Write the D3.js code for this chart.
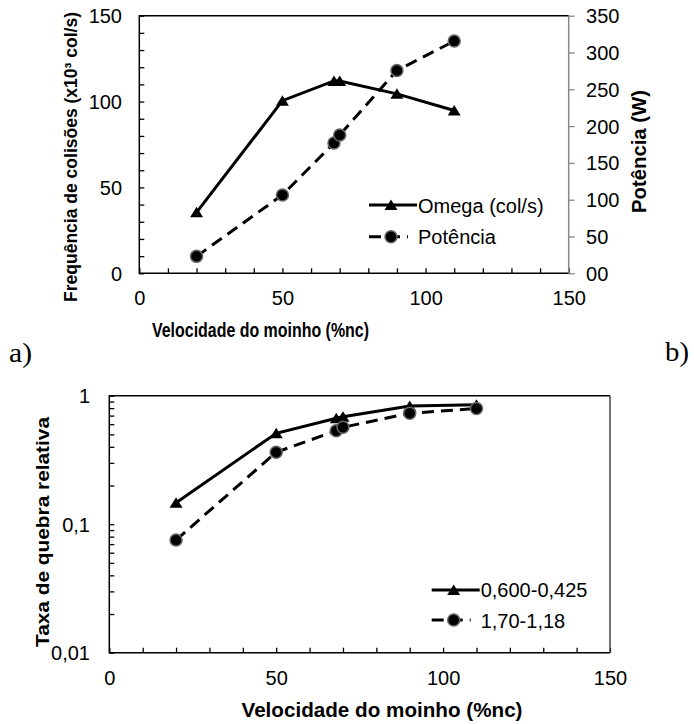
<!DOCTYPE html>
<html>
<head>
<meta charset="utf-8">
<script src="https://cdn.jsdelivr.net/npm/d3@7"></script>
<style>
  html, body { margin: 0; padding: 0; background: #fff; }
  svg { display: block; }
  text { fill: #000; }
</style>
</head>
<body>
<svg id="chart" width="694" height="724"></svg>
<script>
// ---------- data ----------
const speed = [20, 50, 68, 70, 90, 110];
const omega = [35.5, 100.5, 112, 112, 104.5, 94.8];
const potencia = [23, 106.5, 177, 188, 275.5, 315.5];
const taxaFine = [0.147, 0.51, 0.667, 0.687, 0.83, 0.85];
const taxaCoarse = [0.0753, 0.363, 0.534, 0.568, 0.73, 0.795];

const xTickValues = [0, 10, 20, 30, 40, 50, 60, 70, 80, 90, 100, 110, 120, 130, 140, 150];
const xTickLabels = ["0", "50", "100", "150"];
const leftTickValues = [0, 10, 20, 30, 40, 50, 60, 70, 80, 90, 100, 110, 120, 130, 140, 150];
const rightTickValues = [0, 50, 100, 150, 200, 250, 300, 350];
const rightTickLabels = ["00", "50", "100", "150", "200", "250", "300", "350"];
const logTickValues = [0.01, 0.02, 0.03, 0.04, 0.05, 0.06, 0.07, 0.08, 0.09,
                       0.1, 0.2, 0.3, 0.4, 0.5, 0.6, 0.7, 0.8, 0.9, 1];
const logTickLabels = { "0.01": "0,01", "0.1": "0,1", "1": "1" };

const legendTop = ["Omega (col/s)", "Potência"];
const legendBottom = ["0,600-0,425", "1,70-1,18"];
const titleX = "Velocidade do moinho (%nc)";
const titleTopLeft = "Frequência de colisões (x10³ col/s)";
const titleTopRight = "Potência (W)";
const titleBottomY = "Taxa de quebra relativa";

// ---------- helpers ----------
const SANS = "'Liberation Sans', Arial, sans-serif";
const SERIF = "'Liberation Serif', 'Times New Roman', serif";
const svg = d3.select("#chart").style("font-family", SANS);
const FS = 20;
const triPath = "M0,-5.5L6.5,5L-6.5,5Z";

function drawSeries(g, xs, ys, x, y, dashed, marker) {
  const pts = xs.map((d, i) => [x(d), y(ys[i])]);
  g.append("path")
    .attr("d", d3.line()(pts))
    .attr("fill", "none")
    .attr("stroke", "#000")
    .attr("stroke-width", 3)
    .attr("stroke-dasharray", dashed ? "12,7" : null);
  pts.forEach(p => {
    if (marker === "tri") {
      g.append("path").attr("d", triPath)
        .attr("transform", `translate(${p[0]},${p[1]})`)
        .attr("fill", "#000");
    } else {
      g.append("circle").attr("cx", p[0]).attr("cy", p[1]).attr("r", 6)
        .attr("fill", "#000").attr("stroke", "#666").attr("stroke-width", 1.5);
    }
  });
}

function legendRow(g, x0, yLine, yText, label, dashed, marker) {
  if (dashed) {
    g.append("line").attr("x1", x0).attr("x2", x0 + 39).attr("y1", yLine).attr("y2", yLine)
      .attr("stroke", "#000").attr("stroke-width", 3).attr("stroke-dasharray", "12,7");
  } else {
    g.append("line").attr("x1", x0).attr("x2", x0 + 48).attr("y1", yLine).attr("y2", yLine)
      .attr("stroke", "#000").attr("stroke-width", 3);
  }
  const cx = x0 + 22;
  if (marker === "tri") {
    g.append("path").attr("d", triPath).attr("transform", `translate(${cx},${yLine})`).attr("fill", "#000");
  } else {
    g.append("circle").attr("cx", cx).attr("cy", yLine).attr("r", 6)
      .attr("fill", "#000").attr("stroke", "#666").attr("stroke-width", 1.5);
  }
  g.append("text").attr("x", x0 + 49).attr("y", yText).attr("font-size", FS)
    .style("font-family", SANS).text(label);
}

function styleTicks(sel, color) {
  sel.select(".domain").remove();
  sel.selectAll("line").attr("stroke", color).attr("stroke-width", 1.3);
  sel.selectAll("text").attr("font-size", FS).attr("fill", "#000").style("font-family", SANS);
}

// ---------- chart a) ----------
const A = { left: 139.3, right: 568.7, top: 15.7, bottom: 273.3 };
const xA = d3.scaleLinear().domain([0, 150]).range([A.left, A.right]);
const yA = d3.scaleLinear().domain([0, 150]).range([A.bottom, A.top]);
const yA2 = d3.scaleLinear().domain([0, 350]).range([A.bottom, A.top]);

const gA = svg.append("g");

const axA = gA.append("g").attr("transform", `translate(0,${A.bottom})`)
  .call(d3.axisBottom(xA).tickValues(xTickValues).tickSize(-5).tickPadding(0)
    .tickFormat(d => xTickLabels.includes(String(d)) ? String(d) : ""));
styleTicks(axA, "#000");
axA.selectAll("text").attr("y", 31.7).attr("dy", 0);

const ayA = gA.append("g").attr("transform", `translate(${A.left},0)`)
  .call(d3.axisLeft(yA).tickValues(leftTickValues).tickSize(-5).tickPadding(0)
    .tickFormat(d => d % 50 === 0 ? String(d) : ""));
styleTicks(ayA, "#000");
ayA.selectAll("text").attr("x", -17.3).attr("dy", "0.35em");

const ayA2 = gA.append("g").attr("transform", `translate(${A.right},0)`)
  .call(d3.axisRight(yA2).tickValues(rightTickValues).tickSize(6).tickPadding(0)
    .tickFormat((d, i) => rightTickLabels[i]));
styleTicks(ayA2, "#888");
ayA2.selectAll("text").attr("x", 17.4).attr("dy", "0.35em");

gA.append("path")
  .attr("d", `M${A.right},${A.top}H${A.left}V${A.bottom}H${A.right}`)
  .attr("fill", "none").attr("stroke", "#000").attr("stroke-width", 1.5);
gA.append("line").attr("x1", A.right).attr("x2", A.right).attr("y1", A.top).attr("y2", A.bottom)
  .attr("stroke", "#888").attr("stroke-width", 1.5);

drawSeries(gA, speed, omega, xA, yA, false, "tri");
drawSeries(gA, speed, potencia, xA, yA2, true, "circ");

legendRow(gA, 369, 205, 213, legendTop[0], false, "tri");
legendRow(gA, 369, 236.7, 244, legendTop[1], true, "circ");

gA.append("text").attr("x", 260.5).attr("y", 337).attr("text-anchor", "middle")
  .attr("font-size", 20.5).attr("font-weight", "bold")
  .attr("textLength", 217).attr("lengthAdjust", "spacingAndGlyphs").text(titleX);
gA.append("text").attr("transform", "translate(76.5,157) rotate(-90)")
  .attr("text-anchor", "middle").attr("font-size", 18).attr("font-weight", "bold")
  .attr("textLength", 290).attr("lengthAdjust", "spacingAndGlyphs").text(titleTopLeft);
gA.append("text").attr("transform", "translate(646,151.5) rotate(-90)")
  .attr("text-anchor", "middle").attr("font-size", FS).attr("font-weight", "bold")
  .attr("textLength", 123).attr("lengthAdjust", "spacingAndGlyphs").text(titleTopRight);

// panel labels
svg.append("text").attr("x", 9).attr("y", 362).style("font-family", SERIF)
  .attr("font-size", 27).attr("textLength", 23).attr("lengthAdjust", "spacingAndGlyphs").text("a)");
svg.append("text").attr("x", 665).attr("y", 361).style("font-family", SERIF)
  .attr("font-size", 27).attr("textLength", 24).attr("lengthAdjust", "spacingAndGlyphs").text("b)");

// ---------- chart b) ----------
const B = { left: 109.3, right: 610, top: 395.7, bottom: 652.7 };
const xB = d3.scaleLinear().domain([0, 150]).range([B.left, B.right]);
const yB = d3.scaleLog().domain([0.01, 1]).range([B.bottom, B.top]);

const gB = svg.append("g");

const axB = gB.append("g").attr("transform", `translate(0,${B.bottom})`)
  .call(d3.axisBottom(xB).tickValues(xTickValues).tickSize(-5).tickPadding(0)
    .tickFormat(d => xTickLabels.includes(String(d)) ? String(d) : ""));
styleTicks(axB, "#000");
axB.selectAll("text").attr("y", 32.3).attr("dy", 0);

const ayB = gB.append("g").attr("transform", `translate(${B.left},0)`)
  .call(d3.axisLeft(yB).tickValues(logTickValues).tickSize(-5).tickPadding(0)
    .tickFormat(d => logTickLabels[String(+d.toPrecision(3))] || ""));
styleTicks(ayB, "#000");
ayB.selectAll("text").attr("x", -19.3).attr("dy", "0.35em");

gB.append("path")
  .attr("d", `M${B.right},${B.top}H${B.left}V${B.bottom}H${B.right}`)
  .attr("fill", "none").attr("stroke", "#000").attr("stroke-width", 1.5);
gB.append("line").attr("x1", B.right).attr("x2", B.right).attr("y1", B.top).attr("y2", B.bottom)
  .attr("stroke", "#444").attr("stroke-width", 1.5);

drawSeries(gB, speed, taxaFine, xB, yB, false, "tri");
drawSeries(gB, speed, taxaCoarse, xB, yB, true, "circ");

legendRow(gB, 431.7, 590, 597, legendBottom[0], false, "tri");
legendRow(gB, 431.7, 620, 627.5, legendBottom[1], true, "circ");

gB.append("text").attr("x", 382).attr("y", 717).attr("text-anchor", "middle")
  .attr("font-size", FS).attr("font-weight", "bold")
  .attr("textLength", 281).attr("lengthAdjust", "spacingAndGlyphs").text(titleX);
gB.append("text").attr("transform", "translate(49,532) rotate(-90)")
  .attr("text-anchor", "middle").attr("font-size", 19).attr("font-weight", "bold")
  .attr("textLength", 230).attr("lengthAdjust", "spacingAndGlyphs").text(titleBottomY);
</script>
</body>
</html>
